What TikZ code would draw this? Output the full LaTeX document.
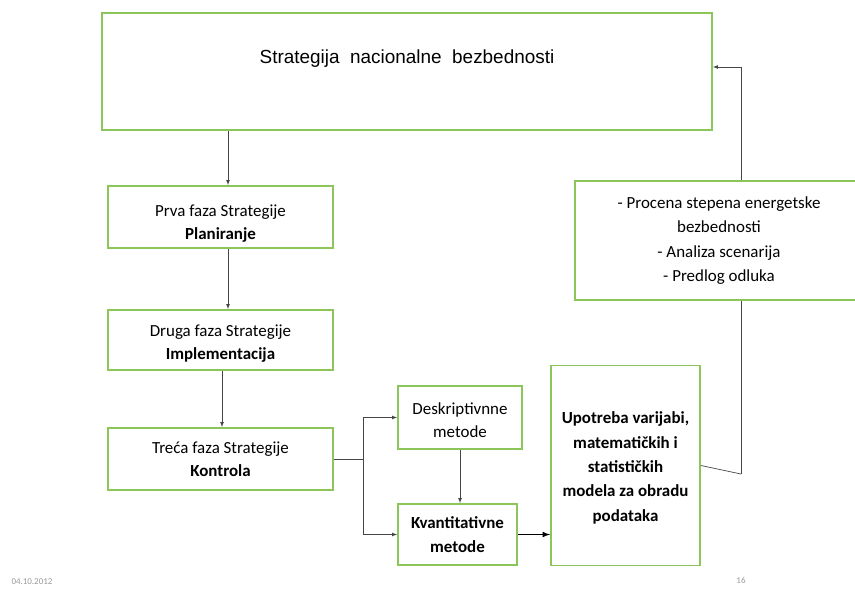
\documentclass[tikz,border=0pt]{standalone}
\usepackage{fontspec}
\setmainfont{Carlito}
\newfontfamily\arialfont{Liberation Sans}
\usetikzlibrary{positioning}
\usetikzlibrary{arrows.meta}
\definecolor{boxgreen}{RGB}{140,198,90}
\definecolor{linegray}{RGB}{70,70,70}
\tikzset{
    faza/.style = {rectangle, draw=boxgreen, line width=1.8bp, fill=white, align=center, inner sep=2bp, font=\fontsize{17}{23.5}\selectfont},
    fazab/.style = {faza, font=\fontsize{17}{24.4}\selectfont\bfseries},
    edgen/.style = {-latex, draw=linegray, line width=0.7bp},
    edgek/.style = {-latex, draw=black, line width=1.6bp},
    edgel/.style = {draw=linegray, line width=0.7bp},
    footer/.style = {text=gray!80, font=\fontsize{9}{10}\selectfont}
}
\begin{document}
\begin{tikzpicture}[x=1bp, y=-1bp]
  \useasboundingbox (0,0) rectangle (855,589);

  \node[faza, minimum width=610bp, minimum height=117bp, text height=12bp, text depth=27bp,
        font=\arialfont\fontsize{19}{22}\selectfont] (strat) at (407,71.5)
        {Strategija\ \ nacionalne\ \ bezbednosti};

  \node[faza, minimum width=225bp, minimum height=62bp, text height=48bp] (prva) at (220.5,217)
        {Prva faza Strategije\\\textbf{Planiranje}};
  \node[faza, minimum width=225bp, minimum height=60bp, text height=42bp] (druga) at (220.5,340)
        {Druga\ faza Strategije\\\textbf{Implementacija}};
  \node[faza, minimum width=225bp, minimum height=62bp] (treca) at (220.5,459)
        {Treća faza Strategije\\\textbf{Kontrola}};

  \node[faza, minimum width=124bp, minimum height=63bp, text height=40bp] (desk) at (460,417.5)
        {Deskriptivnne\\metode};
  \node[fazab, minimum width=119bp, minimum height=61bp] (kvant) at (457.5,534.5)
        {Kvantitativne\\metode};
  \node[fazab, minimum width=149bp, minimum height=200bp, text height=114bp] (upo) at (625.5,465.5)
        {Upotreba varijabi,\\matematičkih i\\statističkih\\modela za obradu\\podataka};
  \node[faza, minimum width=288bp, minimum height=119bp, font=\fontsize{17}{24.5}\selectfont] (proc) at (719,240.5)
        {- Procena stepena energetske\\bezbednosti\\- Analiza scenarija\\- Predlog odluka};

  \node[footer, anchor=west] (datum) at (8,582) {04.10.2012};
  \node[footer] (strana) at (741,581) {16};

  \coordinate (grana) at (363,459);
  \coordinate (povrat) at (741,474);

  \draw[edgen] ([xshift=7.5bp]prva.north |- strat.south) -- ([xshift=7.5bp]prva.north);
  \draw[edgen] ([xshift=7.5bp]druga.north |- prva.south) -- ([xshift=7.5bp]druga.north);
  \draw[edgen] ([xshift=1.5bp]treca.north |- druga.south) -- ([xshift=1.5bp]treca.north);
  \draw[edgel] (treca.east) -- (grana);
  \draw[edgen] (grana) |- (desk.west);
  \draw[edgen] (grana) |- (kvant.west);
  \draw[edgen] (desk.south) -- (desk.south |- kvant.north);
  \draw[edgek] (kvant.east) -- (kvant.east -| upo.west);
  \draw[edgel] (upo.east) -- (povrat);
  \draw[edgel] (povrat) -- (povrat |- proc.south);
  \draw[edgen] (povrat |- proc.north) |- ([yshift=4.5bp]strat.east);
\end{tikzpicture}
\end{document}
